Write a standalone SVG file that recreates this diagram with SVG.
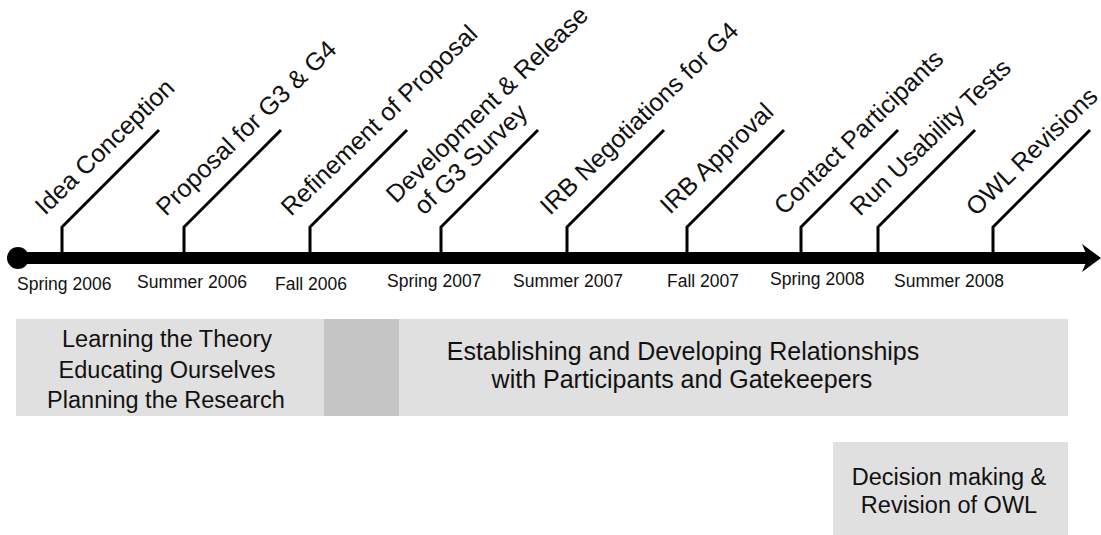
<svg xmlns="http://www.w3.org/2000/svg" width="1101" height="535" viewBox="0 0 1101 535">
<style>
.bg{fill:#ffffff}
.lbl{font-family:"Liberation Sans",Arial,sans-serif;font-size:25px;fill:#111}
.date{font-family:"Liberation Sans",Arial,sans-serif;font-size:17.5px;fill:#111}
.box{fill:#e0e0e0}
.boxd{fill:#c5c5c5}
.bt{font-family:"Liberation Sans",Arial,sans-serif;fill:#111;text-anchor:middle}
.tick{fill:none;stroke:#000;stroke-width:3;stroke-linejoin:miter}
</style>
<rect class="bg" x="0" y="0" width="1101" height="535"/>
<g id="connectors">
<line x1="18" y1="258" x2="1090" y2="258" stroke="#000" stroke-width="12"/>
<circle cx="18" cy="258" r="11" fill="#000"/>
<polygon points="1082,244 1101,258 1082,272 1088,258" fill="#000"/>
<path class="tick" d="M62,252 V227 L159,130"/>
<path class="tick" d="M184,252 V227 L281,130"/>
<path class="tick" d="M310,252 V227 L407,130"/>
<path class="tick" d="M441,252 V227 L538,130"/>
<path class="tick" d="M567,252 V227 L664,130"/>
<path class="tick" d="M687,252 V227 L784,130"/>
<path class="tick" d="M801,252 V227 L898,130"/>
<path class="tick" d="M878,252 V227 L975,130"/>
<path class="tick" d="M993,252 V227 L1090,130"/>
</g>
<g id="n-idea"><text class="lbl" transform="translate(45,216) rotate(-44)">Idea Conception</text></g>
<g id="n-proposal"><text class="lbl" transform="translate(166,217) rotate(-44)">Proposal for G3 &amp; G4</text></g>
<g id="n-refinement"><text class="lbl" transform="translate(291,217) rotate(-44)">Refinement of Proposal</text></g>
<g id="n-development"><text class="lbl" transform="translate(424,216) rotate(-44)"><tspan x="-12" y="-28">Development &amp; Release</tspan><tspan x="0" y="0">of G3 Survey</tspan></text></g>
<g id="n-irbneg"><text class="lbl" transform="translate(550,216) rotate(-44)">IRB Negotiations for G4</text></g>
<g id="n-irbappr"><text class="lbl" transform="translate(670,215) rotate(-44)">IRB Approval</text></g>
<g id="n-contact"><text class="lbl" transform="translate(784,216) rotate(-44)">Contact Participants</text></g>
<g id="n-run"><text class="lbl" transform="translate(860,217) rotate(-44)">Run Usability Tests</text></g>
<g id="n-owl"><text class="lbl" transform="translate(976,217) rotate(-44)">OWL Revisions</text></g>
<g id="dates">
<text class="date" x="17" y="290">Spring 2006</text>
<text class="date" x="137" y="288">Summer 2006</text>
<text class="date" x="275" y="290">Fall 2006</text>
<text class="date" x="387" y="287">Spring 2007</text>
<text class="date" x="513" y="287">Summer 2007</text>
<text class="date" x="667" y="287">Fall 2007</text>
<text class="date" x="770" y="285">Spring 2008</text>
<text class="date" x="894" y="287">Summer 2008</text>
</g>
<g id="phase1">
<rect class="box" x="16" y="319" width="308" height="97"/>
<text class="bt" font-size="23.5"><tspan x="167" y="347">Learning the Theory</tspan><tspan x="167" y="378">Educating Ourselves</tspan><tspan x="166" y="408">Planning the Research</tspan></text>
</g>
<g id="overlap"><rect class="boxd" x="324" y="319" width="75" height="97"/></g>
<g id="phase2">
<rect class="box" x="399" y="319" width="669" height="97"/>
<text class="bt" font-size="25"><tspan x="683" y="360">Establishing and Developing Relationships</tspan><tspan x="682" y="388">with Participants and Gatekeepers</tspan></text>
</g>
<g id="phase3">
<rect class="box" x="833" y="442" width="235" height="93"/>
<text class="bt" font-size="23.5"><tspan x="949" y="485">Decision making &amp;</tspan><tspan x="949" y="513">Revision of OWL</tspan></text>
</g>
</svg>
